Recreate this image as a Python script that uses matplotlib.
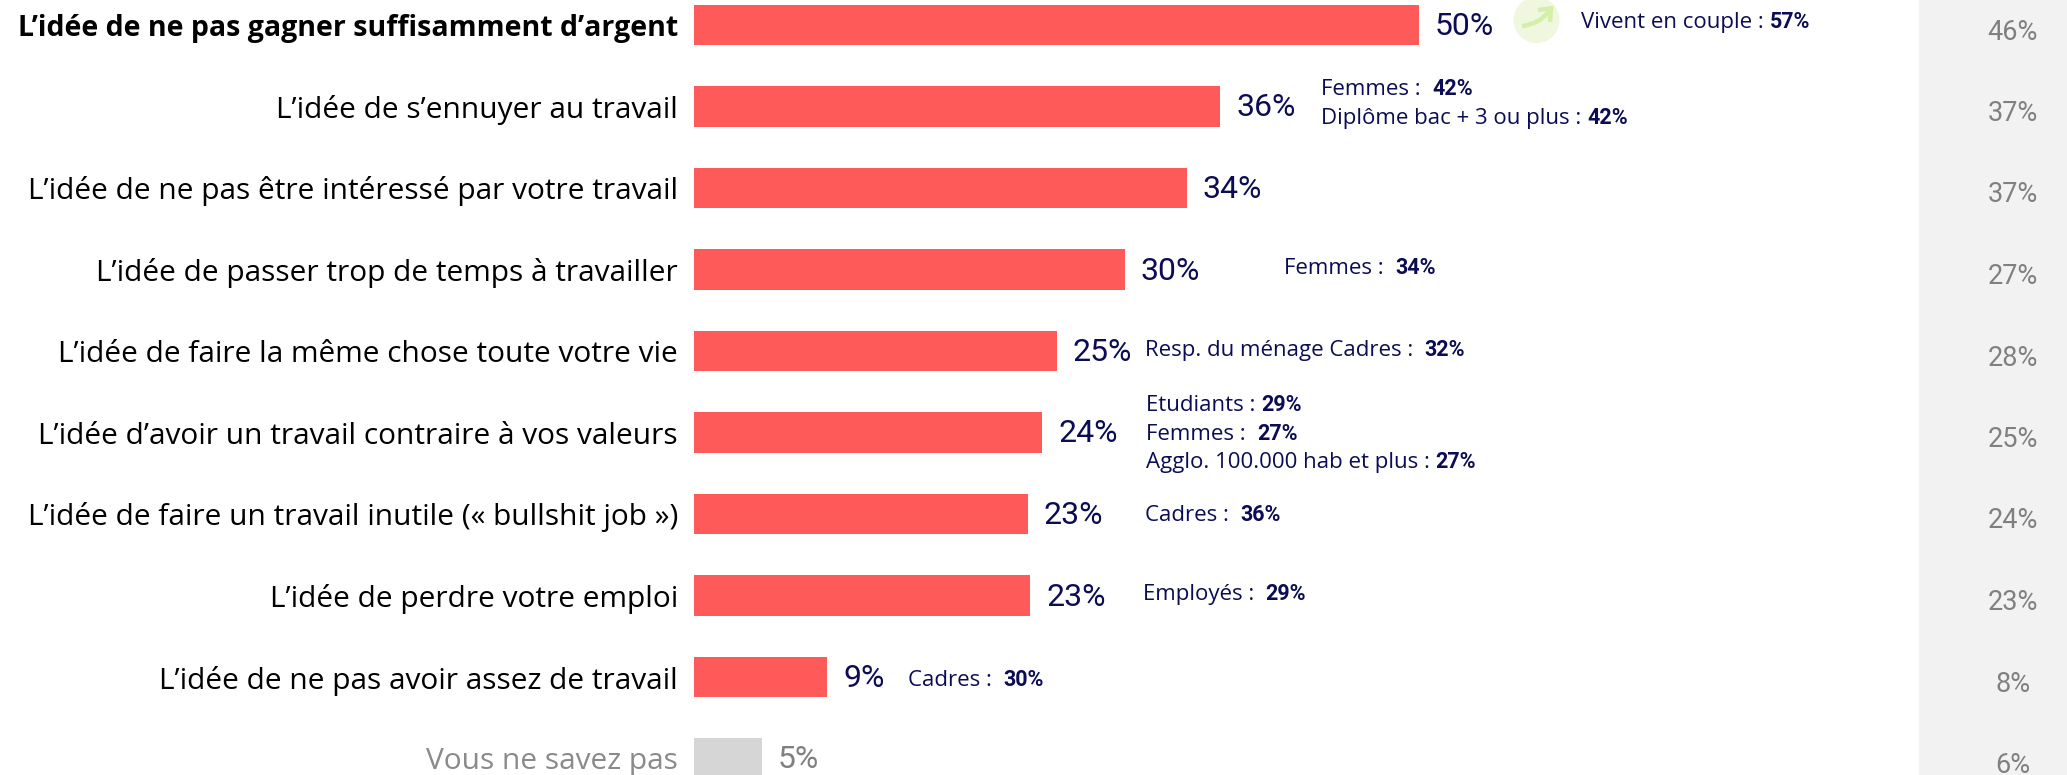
import matplotlib
matplotlib.use("Agg")
import matplotlib.pyplot as plt
from matplotlib.patches import Ellipse, PathPatch
from matplotlib.path import Path

W, H = 2067, 775

# Data
categories = [
    "L’idée de ne pas gagner suffisamment d’argent",
    "L’idée de s’ennuyer au travail",
    "L’idée de ne pas être intéressé par votre travail",
    "L’idée de passer trop de temps à travailler",
    "L’idée de faire la même chose toute votre vie",
    "L’idée d’avoir un travail contraire à vos valeurs",
    "L’idée de faire un travail inutile (« bullshit job »)",
    "L’idée de perdre votre emploi",
    "L’idée de ne pas avoir assez de travail",
    "Vous ne savez pas",
]
values = [50, 36.3, 34, 29.7, 25, 24, 23, 23.2, 9.2, 4.7]
value_labels = ["50%", "36%", "34%", "30%", "25%", "24%", "23%", "23%", "9%", "5%"]
previous_labels = ["46%", "37%", "37%", "27%", "28%", "25%", "24%", "23%", "8%", "6%"]

sub_labels = [
    "Vivent en couple : ", "Femmes :  ", "Diplôme bac + 3 ou plus : ", "Femmes :  ",
    "Resp. du ménage Cadres :  ", "Etudiants : ", "Femmes :  ",
    "Agglo. 100.000 hab et plus : ", "Cadres :  ", "Employés :  ", "Cadres :  ",
]
sub_values = ["57%", "42%", "42%", "34%", "32%", "29%", "27%", "27%", "36%", "29%", "30%"]
sub_x = [1581, 1321, 1321, 1284, 1145, 1146, 1146, 1146, 1145, 1143, 908]
sub_y = [21, 88, 117, 267, 349, 404, 433, 461, 514, 593, 679]

RED = "#ff5a5a"
GREY = "#d6d6d6"
NAVY = "#0c0c55"
FONT = "Open Sans"
NUM_FONT = "Roboto"

fig = plt.figure(figsize=(W / 100, H / 100), dpi=100, facecolor="white")
ax = fig.add_axes([0, 0, 1, 1])
ax.axis("off")
# 14.5 px per percent, bars start at x=694, rows are 81.5 px apart
ax.set_xlim(-694 / 14.5, (W - 694) / 14.5)
ax.set_ylim((H - 25) / 81.5, -25 / 81.5)

def px(x, y):
    return x / W, 1 - y / H

# grey panel on the right
fig.patches.append(plt.Rectangle((1919 / W, 0), (W - 1919) / W, 1, transform=fig.transFigure,
                                 color="#f2f2f2", zorder=-1))

colors = [RED] * 9 + [GREY]
rows = list(range(len(categories)))
ax.barh(rows, values, height=0.5, color=colors, linewidth=0)

for i in rows:
    grey = i == len(categories) - 1
    ax.annotate(categories[i], (0, i), xytext=(-16, -3.5), textcoords="offset pixels",
                ha="right", va="center", fontsize=20.5 if i == 0 else 21.5, family=FONT,
                color="#8a8a8a" if grey else "black",
                fontweight="bold" if i == 0 else "normal")
    ax.annotate(value_labels[i], (values[i], i), xytext=(16, -1.5), textcoords="offset pixels",
                ha="left", va="center", fontsize=23, family=NUM_FONT,
                color="#808080" if grey else NAVY)
    x, y = px(2013, 25 + 81.5 * i + 7)
    fig.text(x, y, previous_labels[i], ha="center", va="center", fontsize=19.5,
             family=NUM_FONT, color="#808080")

for lab, val, sx, sy in zip(sub_labels, sub_values, sub_x, sub_y):
    x, y = px(sx, sy + 1.5)
    t = fig.text(x, y, lab, ha="left", va="center", fontsize=16, family=FONT, color=NAVY)
    ax.annotate(val, xy=(1, 0), xycoords=t, va="bottom", ha="left", fontsize=15.5,
                family=NUM_FONT, fontweight="bold", color=NAVY)

# little green arrow badge next to the top bar
badge = fig.add_axes([0, 0, 1, 1], zorder=3)
badge.axis("off")
badge.set_xlim(0, W)
badge.set_ylim(H, 0)
badge.add_patch(Ellipse((1536.5, 20), 46, 46, color="#eff7df", lw=0))
arrow_line = Path([(1522, 26), (1540, 24), (1549, 11)], [Path.MOVETO, Path.CURVE3, Path.CURVE3])
arrow_head = Path([(1538, 10), (1551, 8.5), (1550, 22)], [Path.MOVETO, Path.LINETO, Path.LINETO])
for p in (arrow_line, arrow_head):
    badge.add_patch(PathPatch(p, fc="none", ec="#d5eea8", lw=3.2))

fig.savefig("out.png", dpi=100)
